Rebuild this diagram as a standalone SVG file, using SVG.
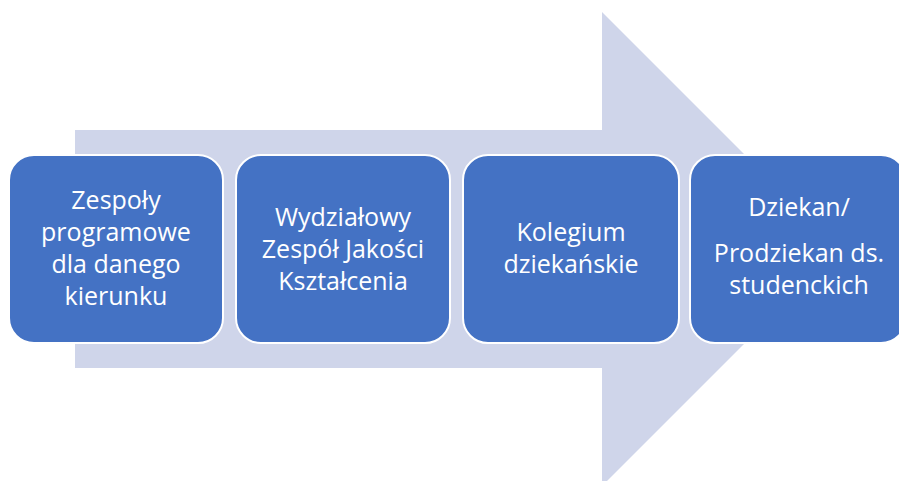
<svg xmlns="http://www.w3.org/2000/svg" width="899" height="481" viewBox="0 0 899 481">
<style>
.box{fill:#4472C4;stroke:#FFFFFF;stroke-width:2}
.t{font-family:"Open Sans","Liberation Sans",sans-serif;font-size:25px;fill:#FFFFFF;text-anchor:middle}
</style>
<rect width="899" height="481" fill="#FFFFFF"/>
<polygon id="bigArrow" points="75,130 602,130 602,12 839,249 602,486 602,368 75,368" fill="#CFD5EA"/>
<g id="connectors"></g>
<g id="node1">
<rect class="box" x="9" y="155" width="214" height="188" rx="25"/>
<text class="t" x="116" y="209">Zespoły</text>
<text class="t" x="116" y="241">programowe</text>
<text class="t" x="116" y="273">dla danego</text>
<text class="t" x="116" y="305">kierunku</text>
</g>
<g id="node2">
<rect class="box" x="236" y="155" width="214" height="188" rx="25"/>
<text class="t" x="343" y="226">Wydziałowy</text>
<text class="t" x="343" y="258">Zespół Jakości</text>
<text class="t" x="343" y="290">Kształcenia</text>
</g>
<g id="node3">
<rect class="box" x="463" y="155" width="216" height="188" rx="25"/>
<text class="t" x="571" y="241">Kolegium</text>
<text class="t" x="571" y="273">dziekańskie</text>
</g>
<g id="node4">
<rect class="box" x="690" y="155" width="216" height="188" rx="25"/>
<text class="t" x="799" y="216">Dziekan/</text>
<text class="t" x="799" y="262">Prodziekan ds.</text>
<text class="t" x="799" y="294">studenckich</text>
</g>
</svg>
